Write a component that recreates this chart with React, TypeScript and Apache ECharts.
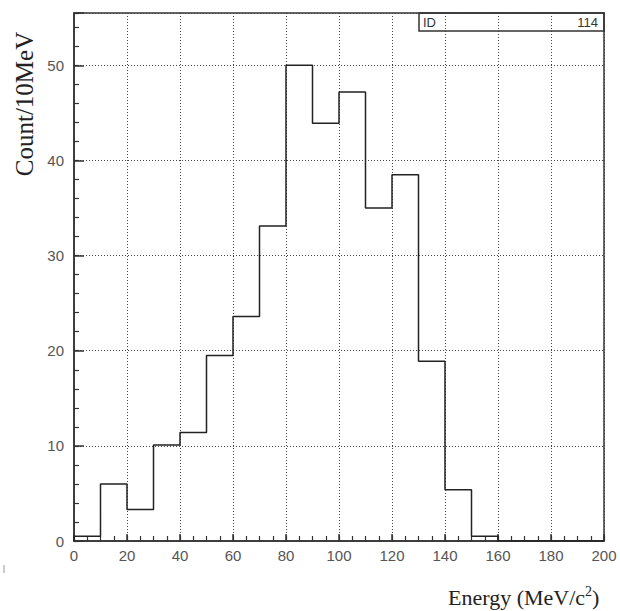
import React, { useEffect, useRef } from "react";
import * as echarts from "echarts";

// Histogram bins (lower edges, MeV) and counts per 10 MeV
const binStarts = [0, 10, 20, 30, 40, 50, 60, 70, 80, 90, 100, 110, 120, 130, 140, 150, 160, 170, 180, 190];
const binWidth = 10;
const counts = [0.5, 6.0, 3.3, 10.1, 11.4, 19.5, 23.6, 33.1, 50.0, 43.9, 47.2, 35.0, 38.5, 18.9, 5.4, 0.5, 0, 0, 0, 0];

const xTicks = [0, 20, 40, 60, 80, 100, 120, 140, 160, 180, 200];
const yTicks = [0, 10, 20, 30, 40, 50];

const histId = "114";

export default function App() {
  const ref = useRef<HTMLDivElement>(null);

  useEffect(() => {
    if (!ref.current) return;
    const chart = echarts.init(ref.current, null, { renderer: "svg" });

    const stepPts: number[][] = [[binStarts[0], 0]];
    binStarts.forEach((s, i) => {
      stepPts.push([s, counts[i]]);
      stepPts.push([s + binWidth, counts[i]]);
    });

    const labelFont = { fontFamily: "Liberation Sans, Arial, sans-serif", fontSize: 15, color: "#555" };
    const gridLine = { show: true, lineStyle: { type: [1, 2] as any, color: "#444", width: 1 } };

    chart.setOption({
      animation: false,
      backgroundColor: "#fff",
      grid: {
        left: 74,
        top: 13,
        width: 530,
        height: 528,
        show: true,
        borderColor: "#333",
        borderWidth: 1.5,
        backgroundColor: "transparent",
      },
      xAxis: [
        {
          type: "value",
          min: xTicks[0],
          max: xTicks[xTicks.length - 1],
          interval: 20,
          position: "bottom",
          axisLine: { show: true, lineStyle: { color: "#333", width: 1.5 } },
          axisTick: { show: true, inside: true, length: 7, lineStyle: { color: "#333", width: 1.5 } },
          axisLabel: { ...labelFont, margin: 7 },
          splitLine: gridLine,
        },
        {
          type: "value",
          min: 0,
          max: 200,
          interval: 5,
          position: "bottom",
          axisLine: { show: false },
          axisTick: { show: true, inside: true, length: 5, lineStyle: { color: "#333", width: 1.2 } },
          axisLabel: { show: false },
          splitLine: { show: false },
        },
      ],
      yAxis: [
        {
          type: "value",
          min: 0,
          max: 55.5,
          interval: 10,
          position: "left",
          axisLine: { show: true, lineStyle: { color: "#333", width: 1.5 } },
          axisTick: { show: true, inside: true, length: 10, lineStyle: { color: "#333", width: 1.5 } },
          axisLabel: {
            ...labelFont,
            margin: 10,
            formatter: (v: number) => (yTicks.includes(v) ? String(v) : ""),
          },
          splitLine: {
            ...gridLine,
          },
        },
        {
          type: "value",
          min: 0,
          max: 55.5,
          interval: 2,
          position: "left",
          axisLine: { show: false },
          axisTick: { show: true, inside: true, length: 5, lineStyle: { color: "#333", width: 1.2 } },
          axisLabel: { show: false },
          splitLine: { show: false },
        },
      ],
      series: [
        {
          type: "line",
          xAxisIndex: 0,
          yAxisIndex: 0,
          data: stepPts,
          showSymbol: false,
          symbol: "none",
          lineStyle: { color: "#222", width: 1.5 },
          z: 5,
        },
      ],
      graphic: [
        {
          type: "rect",
          shape: { x: 419, y: 13, width: 185, height: 18 },
          style: { fill: "none", stroke: "#333", lineWidth: 1.5 },
          z: 10,
        },
        {
          type: "text",
          x: 423,
          y: 22,
          style: {
            text: "ID",
            fontFamily: "Liberation Sans, Arial, sans-serif",
            fontSize: 13,
            fill: "#333",
            align: "left",
            verticalAlign: "middle",
          },
          z: 10,
        },
        {
          type: "text",
          x: 598,
          y: 22,
          style: {
            text: histId,
            fontFamily: "Liberation Sans, Arial, sans-serif",
            fontSize: 13,
            fill: "#333",
            align: "right",
            verticalAlign: "middle",
          },
          z: 10,
        },
        {
          type: "text",
          x: 24,
          y: 104,
          rotation: Math.PI / 2,
          style: {
            text: "Count/10MeV",
            fontFamily: "Liberation Serif, Times New Roman, serif",
            fontSize: 25,
            fill: "#222",
            align: "center",
            verticalAlign: "middle",
          },
        },
        {
          type: "text",
          x: 448,
          y: 597,
          style: {
            text: "{a|Energy (MeV/c}{s|2}{a|)}",
            align: "left",
            verticalAlign: "middle",
            rich: {
              a: { fontFamily: "Liberation Serif, Times New Roman, serif", fontSize: 22, fill: "#222", lineHeight: 25 } as any,
              s: { fontFamily: "Liberation Serif, Times New Roman, serif", fontSize: 14, fill: "#222", verticalAlign: "top", lineHeight: 25 } as any,
            },
          },
        },
        {
          type: "line",
          shape: { x1: 4, y1: 565, x2: 4, y2: 573 },
          style: { stroke: "#999", lineWidth: 1 },
        },
      ],
    });

    return () => chart.dispose();
  }, []);

  return (
    <div
      ref={ref}
      style={{ position: "fixed", left: 0, top: 0, width: 620, height: 611, background: "#fff" }}
    />
  );
}
